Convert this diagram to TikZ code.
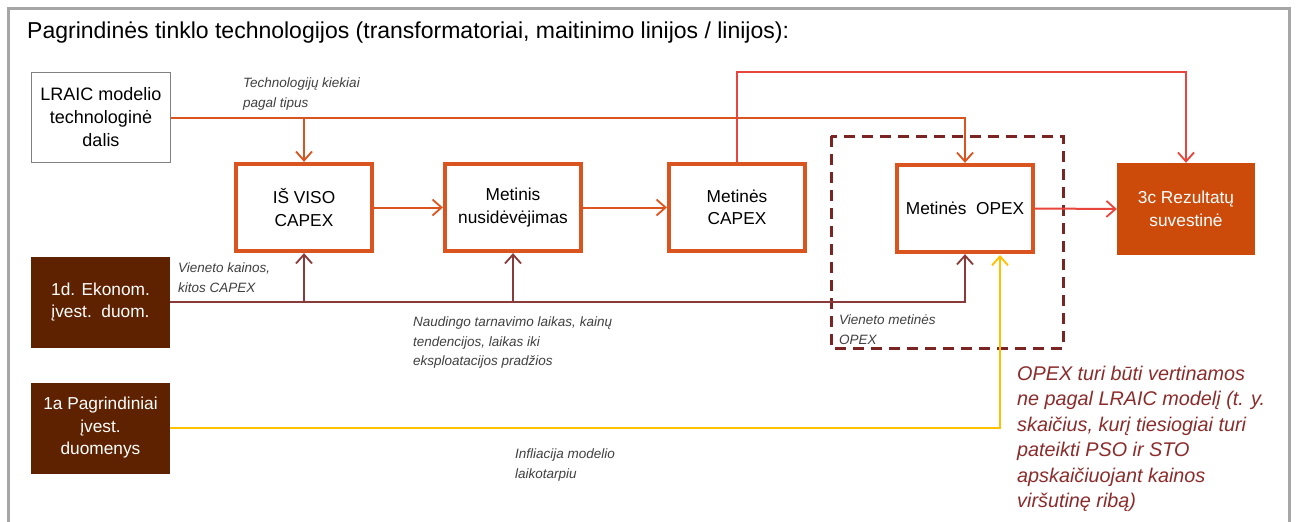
\documentclass[tikz,border=0pt]{standalone}
\usepackage{fontspec}
\setmainfont{Liberation Sans}
\usetikzlibrary{arrows.meta}
\definecolor{orng}{HTML}{D9541E}
\definecolor{rline}{HTML}{E8453C}
\definecolor{brwn}{HTML}{5E2200}
\definecolor{dred}{HTML}{8B3A3A}
\definecolor{dashc}{HTML}{7A2424}
\definecolor{ylw}{HTML}{FFC000}
\definecolor{resc}{HTML}{CC4A0A}
\definecolor{note}{HTML}{8B2C2C}
\definecolor{lblc}{HTML}{404040}
\definecolor{framec}{HTML}{A6A6A6}
\begin{document}
\begin{tikzpicture}[x=1pt,y=-1pt,
  boxtext/.style={align=center, font=\fontsize{17.3}{22.5}\selectfont, inner sep=0pt},
  proc/.style={boxtext, draw=orng, line width=3.8pt, fill=white, minimum width=136.5pt, minimum height=87.5pt},
  input/.style={boxtext, fill=brwn, text=white, minimum width=139pt, minimum height=91pt},
  lraicbox/.style={boxtext, draw=gray, line width=1.3pt, fill=white, minimum width=139pt, minimum height=90pt, font=\fontsize{18}{23}\selectfont},
  resbox/.style={boxtext, fill=resc, text=white, minimum width=138pt, minimum height=92pt},
  tip/.style={-{Straight Barb[length=9pt,width=16pt,line width=1.8pt]}},
  oline/.style={draw=orng, line width=2pt, tip},
  rl/.style={draw=rline, line width=2pt, tip},
  dl/.style={draw=dred, line width=2pt, tip},
  yl/.style={draw=ylw, line width=2.2pt, tip},
  lbl/.style={anchor=north west, align=left, inner sep=0pt, text=lblc, font=\fontsize{13.5}{19.5}\selectfont\itshape},
  ]
\useasboundingbox (0,0) rectangle (1296,522);
\fill[white] (0,0) rectangle (1296,522);
\draw[framec, line width=3pt] (8,522) -- (8,8) -- (1289,8) -- (1289,522);

\node[anchor=base west, inner sep=0pt, font=\fontsize{23}{26}\selectfont] (title) at (27,38)
  {Pagrindinės tinklo technologijos (transformatoriai, maitinimo linijos / linijos):};

% dashed group
\draw[dashc, line width=3pt, dash pattern=on 11pt off 7pt] (831,136) rectangle (1063,348);

\node[lraicbox] (lraic) at (101,117.5) {LRAIC modelio\\technologinė\\dalis};
\node[proc] (iv) at (304,207.5) {IŠ VISO\\CAPEX};
\node[proc] (mn) at (513,207.5) {Metinis\\nusidėvėjimas};
\node[proc] (mc) at (737,207.5) {Metinės\\CAPEX};
\node[proc] (op) at (965,208.5) {Metinės\ \ OPEX};
\node[resbox] (res) at (1186,209) {3c Rezultatų\\suvestinė};
\node[input] (ek) at (100.5,302) {1d. Ekonom.\\įvest.\ \ duom.};
\node[input] (pg) at (100.5,428) {1a Pagrindiniai\\įvest.\\duomenys};

\coordinate (rtop) at (0,72);
\coordinate (yx) at (1000,255);

% orange feed from LRAIC
\draw[oline] (lraic.east) -| (op.north);
\draw[oline] (iv.north |- lraic.east) -- (iv.north);
% chain
\draw[oline] (iv.east) -- (mn.west);
\draw[oline] (mn.east) -- (mc.west);
\draw[rl] (op.east) -- (res.west);
\draw[rl] (mc.north) -- (mc.north |- rtop) -| (res.north);
% economic inputs
\draw[dl] (ek.east) -| (op.south);
\draw[dl] (iv.south |- ek.east) -- (iv.south);
\draw[dl] (mn.south |- ek.east) -- (mn.south);
% inflation
\draw[yl] (pg.east) -| (yx);

% labels
\node[lbl] (l1) at (243,78) {Technologijų kiekiai\\pagal tipus};
\node[lbl] (l2) at (178,263) {Vieneto kainos,\\kitos CAPEX};
\node[lbl] (l3) at (413,317) {Naudingo tarnavimo laikas, kainų\\tendencijos, laikas iki\\eksploatacijos pradžios};
\node[lbl] (l4) at (839,315) {Vieneto metinės\\OPEX};
\node[lbl] (l5) at (515,449) {Infliacija modelio\\laikotarpiu};

\node[anchor=north west, align=left, inner sep=0pt, text=note, font=\fontsize{19.8}{25.4}\selectfont\itshape] (nt) at (1017,366)
  {OPEX turi būti vertinamos\\ne pagal LRAIC modelį (t. y.\\skaičius, kurį tiesiogiai turi\\pateikti PSO ir STO\\apskaičiuojant kainos\\viršutinę ribą)};
\end{tikzpicture}
\end{document}
